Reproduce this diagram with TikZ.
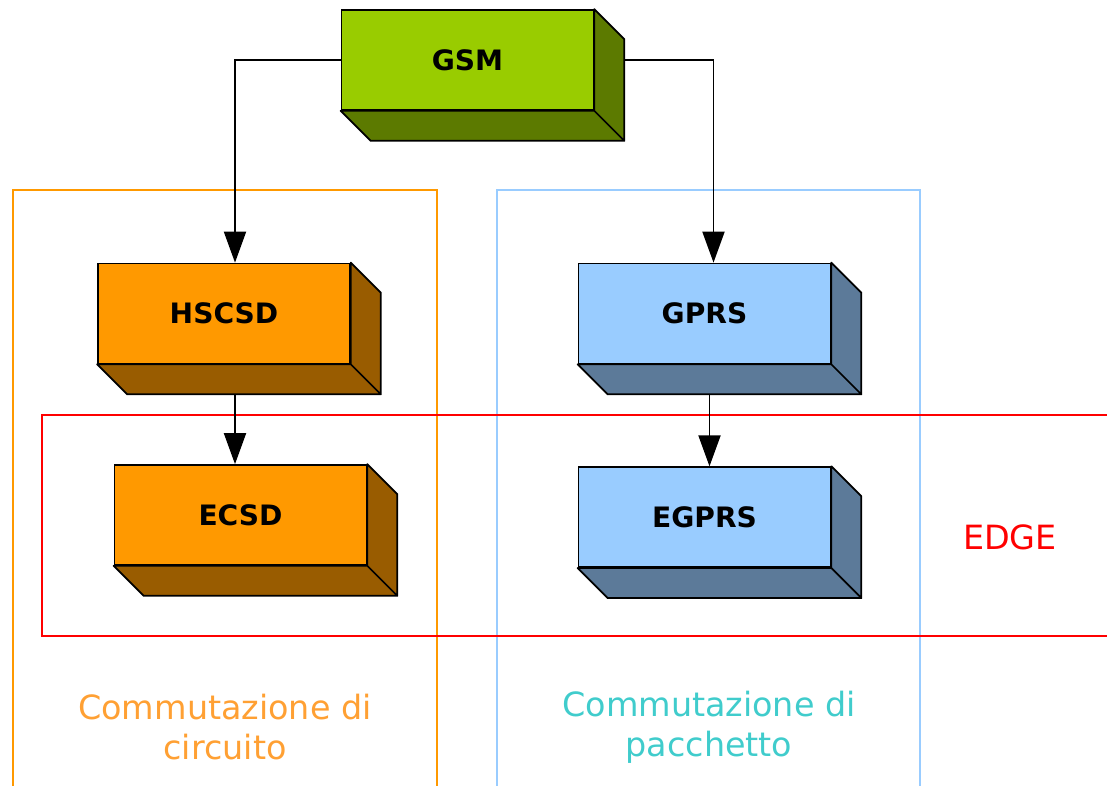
\documentclass[tikz,border=0pt]{standalone}
\usepackage{fontspec}
\setmainfont{DejaVu Sans}
\usetikzlibrary{arrows.meta,positioning,calc}

\definecolor{gsmgreen}{HTML}{99CC00}
\definecolor{gsmdark}{HTML}{5C7A00}
\definecolor{csorange}{HTML}{FF9900}
\definecolor{csdark}{HTML}{995C00}
\definecolor{cstext}{HTML}{FFA033}
\definecolor{psblue}{HTML}{99CCFF}
\definecolor{psdark}{HTML}{5C7A99}
\definecolor{pstext}{HTML}{40CCCC}

% side and bottom face of a block
\newcommand{\boxdepth}[2]{%
  \filldraw[fill=#2, draw=black, line width=1pt, line join=round]
    (#1.north east) -- ++(30,30) -- ($(#1.south east)+(30,30)$) -- (#1.south east) -- cycle
    (#1.south west) -- (#1.south east) -- ($(#1.south east)+(30,30)$) -- ($(#1.south west)+(30,30)$) -- cycle;
}

\begin{document}
\begin{tikzpicture}[
  x=0.02cm, y=-0.02cm,
  block/.style={draw, line width=1pt, minimum width=5.04cm, minimum height=2cm, inner sep=0pt, font=\fontsize{16}{19}\selectfont\bfseries},
  group/.style={line width=1pt},
  grouplabel/.style={align=center, font=\fontsize{19}{23}\selectfont},
  arrow/.style={-{Triangle[width=0.44cm,length=0.62cm]}, line width=1.1pt}
]
\clip (0,0) rectangle (1107,786);
% frames
\draw[group, draw=csorange] (13,190) rectangle (437,820);
\draw[group, draw=psblue] (497,190) rectangle (920,820);
\draw[group, draw=red] (42,415) rectangle (1130,636);
% blocks
\node[block, fill=gsmgreen] (gsm) at (467.5,60) {GSM};
\boxdepth{gsm}{gsmdark}
\node[block, fill=csorange] (hscsd) at (224,313.5) {HSCSD};
\boxdepth{hscsd}{csdark}
\node[block, fill=psblue] (gprs) at (704.5,313.5) {GPRS};
\boxdepth{gprs}{psdark}
\node[block, fill=csorange] (ecsd) at (240.5,515) {ECSD};
\boxdepth{ecsd}{csdark}
\node[block, fill=psblue, below=2.04cm of gprs] (egprs) {EGPRS};
\boxdepth{egprs}{psdark}
% connectors
\draw[arrow] (gsm.west) -| ($(hscsd.north)+(11,0)$);
\draw[arrow] ($(gsm.east)+(30,0)$) -| ($(gprs.north)+(9,0)$);
\draw[arrow] ($(hscsd.south)+(11,30)$) -- ($(ecsd.north)+(-5.5,0)$);
\draw[arrow] ($(gprs.south)+(5,30)$) -- ($(egprs.north)+(5,0)$);
% labels
\node[text=red, font=\fontsize{19}{23}\selectfont] (edge) at (1010,537) {EDGE};
\node[grouplabel, text=cstext] (cslabel) at (225,727) {Commutazione di\\circuito};
\node[grouplabel, text=pstext] (pslabel) at (709,727) {Commutazione di\\pacchetto};
\end{tikzpicture}
\end{document}
